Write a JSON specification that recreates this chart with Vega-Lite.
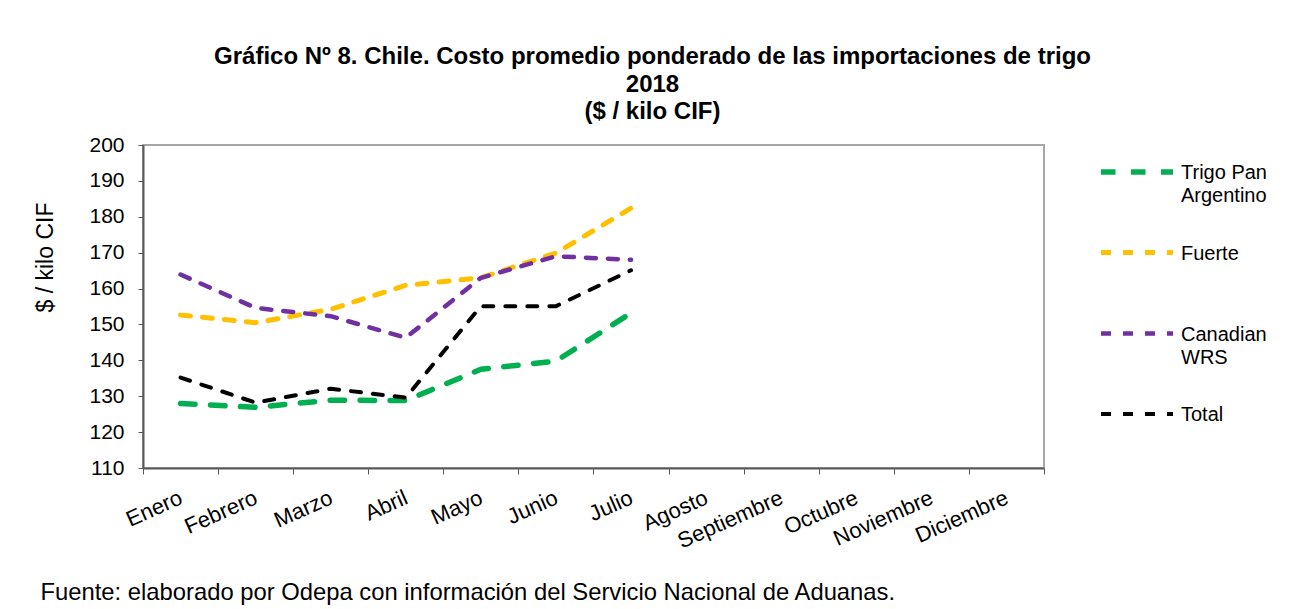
{
  "$schema": "https://vega.github.io/schema/vega-lite/v6.json",
  "width": 901,
  "height": 323,
  "autosize": {"type": "none"},
  "padding": {"left": 143, "top": 145, "right": 251, "bottom": 141},
  "background": "white",
  "title": {
    "text": ["Gráfico Nº 8. Chile. Costo promedio ponderado de las importaciones de trigo", "2018", "($ / kilo CIF)"],
    "anchor": "middle",
    "frame": "group",
    "dx": 59,
    "offset": 9,
    "font": "Liberation Sans",
    "fontSize": 24,
    "fontWeight": "bold",
    "lineHeight": 27.5,
    "color": "#000000"
  },
  "data": {
    "values": [
      {"mes": "Enero", "serie": "Trigo Pan Argentino", "valor": 128.0},
      {"mes": "Febrero", "serie": "Trigo Pan Argentino", "valor": 126.9},
      {"mes": "Marzo", "serie": "Trigo Pan Argentino", "valor": 128.9},
      {"mes": "Abril", "serie": "Trigo Pan Argentino", "valor": 128.8},
      {"mes": "Mayo", "serie": "Trigo Pan Argentino", "valor": 137.5},
      {"mes": "Junio", "serie": "Trigo Pan Argentino", "valor": 139.8},
      {"mes": "Julio", "serie": "Trigo Pan Argentino", "valor": 153.2},
      {"mes": "Enero", "serie": "Fuerte", "valor": 152.6},
      {"mes": "Febrero", "serie": "Fuerte", "valor": 150.5},
      {"mes": "Marzo", "serie": "Fuerte", "valor": 154.2},
      {"mes": "Abril", "serie": "Fuerte", "valor": 160.9},
      {"mes": "Mayo", "serie": "Fuerte", "valor": 163.0},
      {"mes": "Junio", "serie": "Fuerte", "valor": 169.9},
      {"mes": "Julio", "serie": "Fuerte", "valor": 182.4},
      {"mes": "Enero", "serie": "Canadian WRS", "valor": 163.9},
      {"mes": "Febrero", "serie": "Canadian WRS", "valor": 154.6},
      {"mes": "Marzo", "serie": "Canadian WRS", "valor": 152.3},
      {"mes": "Abril", "serie": "Canadian WRS", "valor": 146.3},
      {"mes": "Mayo", "serie": "Canadian WRS", "valor": 163.0},
      {"mes": "Junio", "serie": "Canadian WRS", "valor": 169.0},
      {"mes": "Julio", "serie": "Canadian WRS", "valor": 168.0},
      {"mes": "Enero", "serie": "Total", "valor": 135.2},
      {"mes": "Febrero", "serie": "Total", "valor": 128.2},
      {"mes": "Marzo", "serie": "Total", "valor": 132.1},
      {"mes": "Abril", "serie": "Total", "valor": 129.6},
      {"mes": "Mayo", "serie": "Total", "valor": 155.1},
      {"mes": "Junio", "serie": "Total", "valor": 155.1},
      {"mes": "Julio", "serie": "Total", "valor": 165.1}
    ]
  },
  "mark": {"type": "line", "strokeCap": "round", "strokeJoin": "round"},
  "encoding": {
    "x": {
      "field": "mes",
      "type": "nominal",
      "sort": null,
      "scale": {
        "domain": ["Enero", "Febrero", "Marzo", "Abril", "Mayo", "Junio", "Julio", "Agosto", "Septiembre", "Octubre", "Noviembre", "Diciembre"],
        "paddingInner": 0,
        "paddingOuter": 0
      },
      "axis": {
        "title": "Fuente: elaborado por Odepa con información del Servicio Nacional de Aduanas.",
        "titleX": -103,
        "titleY": 124,
        "titleAlign": "left",
        "titleBaseline": "middle",
        "titleFont": "Liberation Sans",
        "titleFontSize": 23.8,
        "titleFontWeight": "normal",
        "titleColor": "#000000",
        "labelAngle": -24,
        "labelAlign": "right",
        "labelBaseline": "top",
        "labelFont": "Liberation Sans",
        "labelFontSize": 22,
        "labelColor": "#000000",
        "labelPadding": 13,
        "labelOffset": -4,
        "labelOverlap": false,
        "tickBand": "extent",
        "tickSize": 6,
        "tickColor": "#595959",
        "domainColor": "#595959",
        "domainWidth": 2,
        "grid": false
      }
    },
    "y": {
      "field": "valor",
      "type": "quantitative",
      "scale": {"domain": [110, 200], "nice": false, "zero": false},
      "axis": {
        "title": "$ / kilo CIF",
        "titleX": -98,
        "titleY": 112,
        "titleAngle": -90,
        "titleAlign": "center",
        "titleBaseline": "middle",
        "titleFont": "Liberation Sans",
        "titleFontSize": 23,
        "titleFontWeight": "normal",
        "titleColor": "#000000",
        "values": [110, 120, 130, 140, 150, 160, 170, 180, 190, 200],
        "labelFont": "Liberation Sans",
        "labelFontSize": 21,
        "labelColor": "#000000",
        "labelPadding": 14,
        "labelOverlap": false,
        "tickSize": 5,
        "tickColor": "#595959",
        "domainColor": "#595959",
        "domainWidth": 2,
        "grid": false
      }
    },
    "color": {
      "field": "serie",
      "type": "nominal",
      "scale": {
        "domain": ["Trigo Pan Argentino", "Fuerte", "Canadian WRS", "Total"],
        "range": ["#00B050", "#FFC000", "#7030A0", "#000000"]
      },
      "legend": {
        "title": null,
        "orient": "none",
        "legendX": 955,
        "legendY": -12,
        "padding": 0,
        "symbolType": "stroke",
        "symbolSize": 5184,
        "symbolDashArray": [10, 12],
        "symbolStrokeWidth": 4.5,
        "labelFont": "Liberation Sans",
        "labelFontSize": 20,
        "labelColor": "#000000",
        "labelOffset": 5,
        "labelBaseline": "alphabetic",
        "labelExpr": "datum.label == 'Trigo Pan Argentino' ? ['Trigo Pan', 'Argentino'] : datum.label == 'Canadian WRS' ? ['Canadian', 'WRS'] : [datum.label, ' ']",
        "rowPadding": 8,
        "labelLimit": 200,
        "encode": {
          "labels": {"update": {"dy": {"value": 7}, "lineHeight": {"value": 23}}},
          "symbols": {"update": {"strokeWidth": {"signal": "datum.value == 'Trigo Pan Argentino' ? 6 : 4.5"}, "strokeDash": {"signal": "datum.value == 'Trigo Pan Argentino' ? [14, 12] : [10, 12]"}}}
        }
      }
    },
    "strokeWidth": {
      "field": "serie",
      "type": "nominal",
      "scale": {"domain": ["Trigo Pan Argentino", "Fuerte", "Canadian WRS", "Total"], "range": [5.5, 4, 4, 4]},
      "legend": null
    },
    "strokeDash": {
      "field": "serie",
      "type": "nominal",
      "scale": {"domain": ["Trigo Pan Argentino", "Fuerte", "Canadian WRS", "Total"], "range": [[14.5, 15.5], [10, 12], [10, 12], [10, 12]]},
      "legend": null
    }
  },
  "config": {
    "view": {"stroke": "#a6a6a6", "strokeWidth": 2},
    "font": "Liberation Sans"
  }
}
